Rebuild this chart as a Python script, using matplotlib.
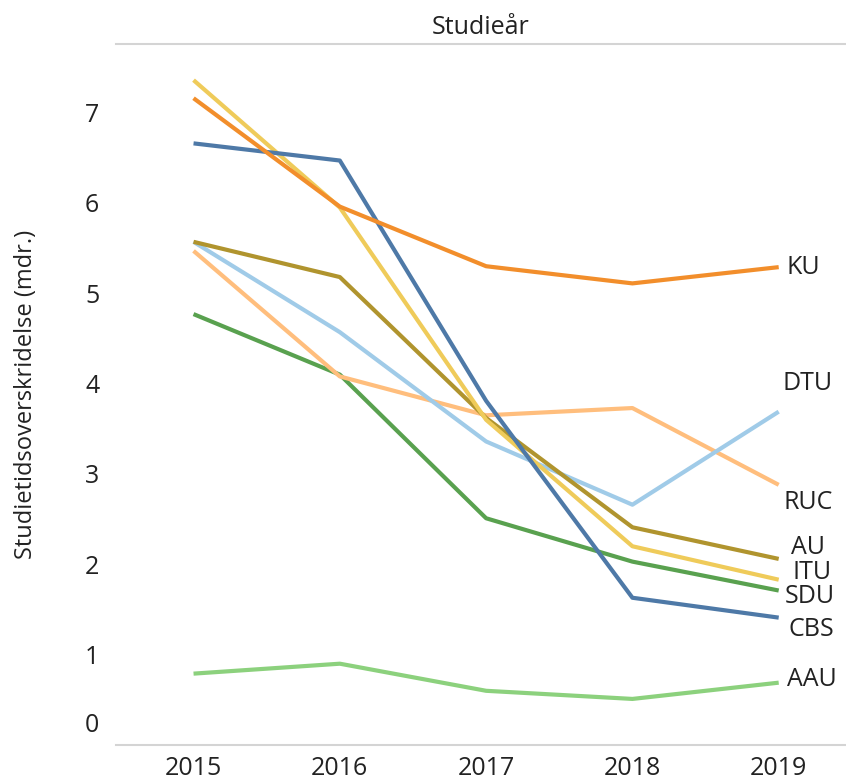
import matplotlib
matplotlib.use("Agg")
import matplotlib.pyplot as plt
from matplotlib.transforms import ScaledTranslation

years = ["2015", "2016", "2017", "2018", "2019"]
series_names = ["KU", "DTU", "RUC", "AU", "ITU", "SDU", "CBS", "AAU"]
KU = [7.16, 5.96, 5.30, 5.11, 5.29]
ITU = [7.36, 5.95, 3.60, 2.20, 1.83]
CBS = [6.66, 6.47, 3.81, 1.63, 1.41]
AU = [5.57, 5.18, 3.62, 2.41, 2.06]
DTU = [5.57, 4.57, 3.36, 2.66, 3.69]
RUC = [5.47, 4.08, 3.65, 3.73, 2.88]
SDU = [4.77, 4.10, 2.51, 2.03, 1.71]
AAU = [0.79, 0.90, 0.60, 0.51, 0.69]
yticks = [0, 1, 2, 3, 4, 5, 6, 7]

data = {"KU": KU, "ITU": ITU, "CBS": CBS, "AU": AU, "DTU": DTU,
        "RUC": RUC, "SDU": SDU, "AAU": AAU}
colors = {"KU": "#F28E2B", "ITU": "#EFCB5A", "CBS": "#4E79A7", "AU": "#B0942E",
          "DTU": "#A0CBE8", "RUC": "#FFBE7D", "SDU": "#59A14F", "AAU": "#8CD17D"}
# label offsets in pixels (dx, dy) from line end, and alignment
label_off = {"KU": (8, 0, "left"), "DTU": (29, 28, "center"), "RUC": (29, -18, "center"),
             "AU": (29, 11, "center"), "ITU": (33, 7, "center"), "SDU": (31, -6, "center"),
             "CBS": (33, -12, "center"), "AAU": (8, 3, "left")}
draw_order = ["AAU", "SDU", "RUC", "DTU", "AU", "ITU", "CBS", "KU"]

plt.rcParams["font.family"] = ["Open Sans", "DejaVu Sans"]
W, H = 846, 780
fig = plt.figure(figsize=(W / 100, H / 100), dpi=100)
ax = fig.add_axes([116 / W, (H - 745) / H, (846 - 116) / W, (745 - 44) / H])

FS = 18
x = list(range(len(years)))
for name in draw_order:
    ax.plot(x, data[name], color=colors[name], lw=3.0, solid_capstyle="butt", clip_on=False)
    dx, dy, ha = label_off[name]
    ax.annotate(name, (x[-1], data[name][-1]), xytext=(dx * 0.72, dy * 0.72),
                textcoords="offset points", ha=ha, va="center", fontsize=FS, color="#222222")

ax.set_xlim(-0.53, 4.46)
ax.set_ylim(0, 7.76)
ax.set_xticks(x)
ax.set_xticklabels(years)
ax.set_yticks(yticks)
ax.set_yticklabels([str(v) for v in yticks])
ax.tick_params(axis="both", length=0, labelsize=FS, labelcolor="#222222")
ax.tick_params(axis="x", pad=8)
ax.tick_params(axis="y", pad=12)
for s in ["left", "right"]:
    ax.spines[s].set_visible(False)
for s in ["top", "bottom"]:
    ax.spines[s].set_color("#D4D4D4")
    ax.spines[s].set_linewidth(1.5)

ax.set_title("Studieår", fontsize=FS, pad=7, color="#222222")
ax.set_ylabel("Studietidsoverskridelse (mdr.)", fontsize=17, color="#222222", labelpad=34)

fig.canvas.draw()
lbl0 = ax.get_yticklabels()[0]
lbl0.set_transform(lbl0.get_transform() + ScaledTranslation(0, 23 / 100, fig.dpi_scale_trans))

fig.savefig("out.png", dpi=100)
